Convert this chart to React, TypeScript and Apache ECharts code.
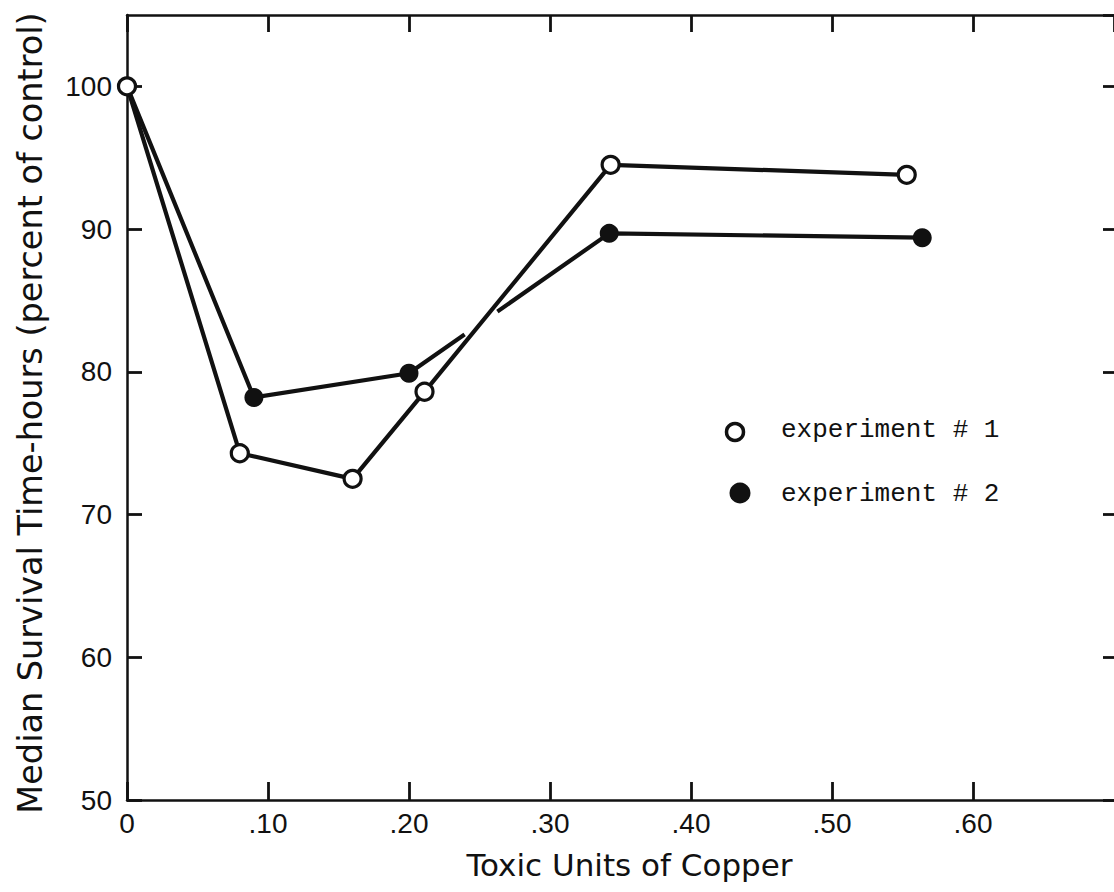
import React, { useEffect, useRef } from "react";
import * as echarts from "echarts";

const exp1X = [0, 0.08, 0.16, 0.211, 0.343, 0.553];
const exp1Y = [100, 74.3, 72.5, 78.6, 94.5, 93.8];
const exp2X = [0, 0.09, 0.2, 0.342, 0.564];
const exp2Y = [100, 78.2, 79.9, 89.7, 89.4];
const xTickLabels = ["0", ".10", ".20", ".30", ".40", ".50", ".60"];
const yTickLabels = ["50", "60", "70", "80", "90", "100"];
const legendNames = ["experiment # 1", "experiment # 2"];

const INK = "#111";
const TICK_FONT = "Liberation Sans";
const NAME_FONT = "DejaVu Sans";

export default function App() {
  const ref = useRef<HTMLDivElement>(null);
  useEffect(() => {
    document.body.style.margin = "0";
    const chart = echarts.init(ref.current!, null, { renderer: "svg" });
    const xFmt = (v: number) => {
      const i = Math.round(v * 10);
      return xTickLabels[i] ?? "";
    };
    const yFmt = (v: number) => {
      const i = Math.round((v - 50) / 10);
      return Math.abs(v - (50 + i * 10)) < 1e-6 ? yTickLabels[i] ?? "" : "";
    };
    chart.setOption({
      animation: false,
      backgroundColor: "#fff",
      grid: { left: 127, right: 0, top: 15, bottom: 92, containLabel: false, outerBoundsMode: "none" },
      xAxis: [
        {
          type: "value",
          position: "bottom",
          min: 0,
          max: 0.7,
          interval: 0.1,
          name: "Toxic Units of Copper",
          nameLocation: "middle",
          nameGap: 49,
          nameTextStyle: { fontFamily: NAME_FONT, fontSize: 31, color: INK, padding: [0, 0, 0, 18] },
          axisLine: { show: true, onZero: false, lineStyle: { color: INK, width: 2.5 } },
          axisTick: { show: true, inside: true, length: 18, lineStyle: { color: INK, width: 2.8 } },
          axisLabel: { show: true, formatter: xFmt, fontFamily: TICK_FONT, fontSize: 28, color: INK, margin: 9, showMaxLabel: false },
          splitLine: { show: false },
        },
        {
          type: "value",
          position: "top",
          min: 0,
          max: 0.7,
          interval: 0.1,
          axisLine: { show: true, onZero: false, lineStyle: { color: INK, width: 2.5 } },
          axisTick: { show: true, inside: true, length: 17, lineStyle: { color: INK, width: 2.8 } },
          axisLabel: { show: false },
          splitLine: { show: false },
        },
      ],
      yAxis: [
        {
          type: "value",
          position: "left",
          min: 50,
          max: 105,
          interval: 10,
          name: "Median Survival Time-hours (percent of control)",
          nameLocation: "middle",
          nameGap: 80,
          nameTextStyle: { fontFamily: NAME_FONT, fontSize: 33.5, color: INK, padding: [0, 11, 0, 0] },
          axisLine: { show: true, onZero: false, lineStyle: { color: INK, width: 2.5 } },
          axisTick: { show: true, inside: true, length: 15, lineStyle: { color: INK, width: 2.8 } },
          axisLabel: { show: true, formatter: yFmt, fontFamily: TICK_FONT, fontSize: 28, color: INK, margin: 15, showMaxLabel: false },
          splitLine: { show: false },
        },
        {
          type: "value",
          position: "right",
          min: 50,
          max: 105,
          interval: 10,
          axisLine: { show: false, onZero: false },
          axisTick: { show: true, inside: true, length: 11, lineStyle: { color: INK, width: 2.8 } },
          axisLabel: { show: false },
          splitLine: { show: false },
        },
      ],
      series: [
        {
          name: legendNames[1],
          type: "line",
          z: 2,
          xAxisIndex: 0,
          yAxisIndex: 0,
          data: exp2X.map((x, i) => [x, exp2Y[i]]),
          symbol: "circle",
          symbolSize: 19,
          itemStyle: { color: INK },
          lineStyle: { color: INK, width: 4.2 },
        },
        {
          name: legendNames[0],
          type: "line",
          z: 4,
          xAxisIndex: 0,
          yAxisIndex: 0,
          data: exp1X.map((x, i) => [x, exp1Y[i]]),
          symbol: "circle",
          symbolSize: 17,
          itemStyle: { color: "#fff", borderColor: INK, borderWidth: 3.2 },
          lineStyle: { color: INK, width: 4.2 },
        },
      ],
    });

    // drafting break in experiment #2 line where experiment #1 line crosses it
    const px = (x: number, y: number) =>
      chart.convertToPixel({ xAxisIndex: 0, yAxisIndex: 0 }, [x, y]) as number[];
    const a1 = px(exp1X[3], exp1Y[3]);
    const a2 = px(exp1X[4], exp1Y[4]);
    const b1 = px(exp2X[2], exp2Y[2]);
    const b2 = px(exp2X[3], exp2Y[3]);
    const d1 = [a2[0] - a1[0], a2[1] - a1[1]];
    const d2 = [b2[0] - b1[0], b2[1] - b1[1]];
    const den = d1[0] * d2[1] - d1[1] * d2[0];
    const t = ((b1[0] - a1[0]) * d2[1] - (b1[1] - a1[1]) * d2[0]) / den;
    const cx = a1[0] + t * d1[0];
    const cy = a1[1] + t * d1[1];
    const len = Math.hypot(d2[0], d2[1]);
    const ux = d2[0] / len;
    const uy = d2[1] / len;
    const half = 20;

    chart.setOption({
      graphic: [
        {
          type: "line",
          z: 3,
          silent: true,
          shape: { x1: cx - ux * half, y1: cy - uy * half, x2: cx + ux * half, y2: cy + uy * half },
          style: { stroke: "#fff", lineWidth: 9 },
        },
        {
          type: "circle",
          z: 10,
          shape: { cx: 735, cy: 432, r: 8.5 },
          style: { fill: "#fff", stroke: INK, lineWidth: 3.5 },
        },
        {
          type: "text",
          z: 10,
          x: 781,
          y: 430,
          style: { text: legendNames[0], fontFamily: "Liberation Mono", fontSize: 26, fill: INK, verticalAlign: "middle", align: "left" },
        },
        {
          type: "circle",
          z: 10,
          shape: { cx: 740, cy: 493, r: 10.5 },
          style: { fill: INK },
        },
        {
          type: "text",
          z: 10,
          x: 781,
          y: 494,
          style: { text: legendNames[1], fontFamily: "Liberation Mono", fontSize: 26, fill: INK, verticalAlign: "middle", align: "left" },
        },
      ],
    });

    return () => chart.dispose();
  }, []);
  return <div ref={ref} style={{ width: 1114, height: 892 }} />;
}
